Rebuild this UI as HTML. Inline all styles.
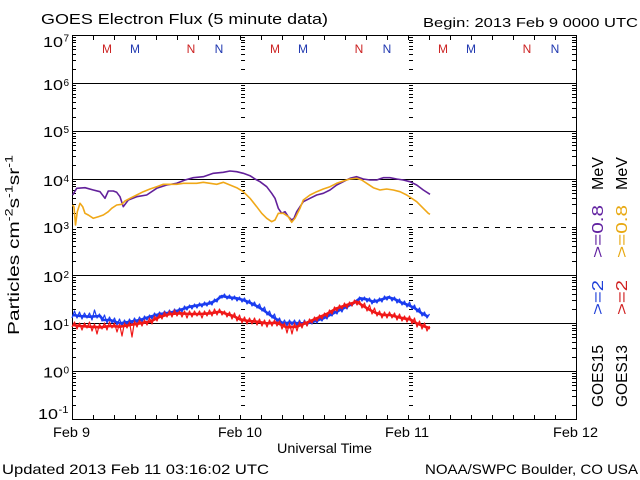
<!DOCTYPE html>
<html><head><meta charset="utf-8"><style>
html,body{margin:0;padding:0;background:#fff;}
svg{display:block;font-family:"Liberation Sans",Arial,sans-serif;}
</style></head><body>
<svg width="640" height="480" viewBox="0 0 640 480" xmlns="http://www.w3.org/2000/svg">
<defs>
<path id="tk" d="M0 405.5h4M0 396.5h4M0 390.5h4M0 385.5h4M0 382.5h4M0 378.5h4M0 376.5h4M0 373.5h4M0 357.5h4M0 348.5h4M0 342.5h4M0 337.5h4M0 334.5h4M0 330.5h4M0 328.5h4M0 325.5h4M0 309.5h4M0 300.5h4M0 294.5h4M0 289.5h4M0 286.5h4M0 282.5h4M0 280.5h4M0 277.5h4M0 261.5h4M0 252.5h4M0 246.5h4M0 241.5h4M0 238.5h4M0 234.5h4M0 232.5h4M0 229.5h4M0 213.5h4M0 204.5h4M0 198.5h4M0 193.5h4M0 190.5h4M0 186.5h4M0 184.5h4M0 181.5h4M0 165.5h4M0 156.5h4M0 150.5h4M0 145.5h4M0 142.5h4M0 138.5h4M0 136.5h4M0 133.5h4M0 117.5h4M0 108.5h4M0 102.5h4M0 97.5h4M0 94.5h4M0 90.5h4M0 88.5h4M0 85.5h4M0 69.5h4M0 60.5h4M0 54.5h4M0 49.5h4M0 46.5h4M0 42.5h4M0 40.5h4M0 37.5h4" stroke="#000" stroke-width="1" fill="none"/>
<path id="xt" d="M93.5 415v4M114.5 415v4M135.5 415v4M156.5 415v4M177.5 415v4M198.5 415v4M219.5 415v4M240.5 415v4M261.5 415v4M282.5 415v4M303.5 415v4M324.5 415v4M345.5 415v4M366.5 415v4M387.5 415v4M408.5 415v4M429.5 415v4M450.5 415v4M471.5 415v4M492.5 415v4M513.5 415v4M534.5 415v4M555.5 415v4" stroke="#000" stroke-width="1" fill="none"/>
</defs>

<!-- title -->
<text x="41" y="24" font-size="15" textLength="287" lengthAdjust="spacingAndGlyphs">GOES Electron Flux (5 minute data)</text>
<text x="423" y="27" font-size="13" textLength="215" lengthAdjust="spacingAndGlyphs">Begin: 2013 Feb 9 0000 UTC</text>

<!-- frame -->
<rect x="72.5" y="35.5" width="504" height="384" fill="none" stroke="#000" stroke-width="1"/>
<path d="M72 83.5H576M72 131.5H576M72 179.5H576M72 275.5H576M72 323.5H576M72 371.5H576" stroke="#000" stroke-width="1"/>
<path d="M77 227.5H576" stroke="#000" stroke-width="1" stroke-dasharray="5 6"/>

<!-- ticks -->
<use href="#tk" x="72"/>
<use href="#tk" x="241"/>
<use href="#tk" x="409"/>
<use href="#tk" x="572"/>
<use href="#xt"/>
<use href="#xt" y="-379"/>

<!-- M / N markers -->
<g font-size="12" text-anchor="middle">
<text x="107" y="53" fill="#cc2222">M</text>
<text x="135" y="53" fill="#2038b0">M</text>
<text x="191" y="53" fill="#cc2222">N</text>
<text x="219" y="53" fill="#2038b0">N</text>
<text x="275" y="53" fill="#cc2222">M</text>
<text x="303" y="53" fill="#2038b0">M</text>
<text x="359" y="53" fill="#cc2222">N</text>
<text x="387" y="53" fill="#2038b0">N</text>
<text x="443" y="53" fill="#cc2222">M</text>
<text x="471" y="53" fill="#2038b0">M</text>
<text x="527" y="53" fill="#cc2222">N</text>
<text x="555" y="53" fill="#2038b0">N</text>
</g>

<!-- y tick labels -->
<g font-size="15">
<text x="43" y="47" textLength="20" lengthAdjust="spacingAndGlyphs">10</text>
<text x="43" y="90" textLength="20" lengthAdjust="spacingAndGlyphs">10</text>
<text x="43" y="137" textLength="20" lengthAdjust="spacingAndGlyphs">10</text>
<text x="43" y="186" textLength="20" lengthAdjust="spacingAndGlyphs">10</text>
<text x="43" y="233" textLength="20" lengthAdjust="spacingAndGlyphs">10</text>
<text x="43" y="282" textLength="20" lengthAdjust="spacingAndGlyphs">10</text>
<text x="43" y="330" textLength="20" lengthAdjust="spacingAndGlyphs">10</text>
<text x="43" y="377.5" textLength="20" lengthAdjust="spacingAndGlyphs">10</text>
<text x="38" y="419" textLength="20" lengthAdjust="spacingAndGlyphs">10</text>
</g>
<g font-size="10">
<text x="63.5" y="41.5">7</text>
<text x="63.5" y="86">6</text>
<text x="63.5" y="133">5</text>
<text x="63.5" y="182">4</text>
<text x="63.5" y="229">3</text>
<text x="63.5" y="278">2</text>
<text x="63.5" y="326">1</text>
<text x="63.5" y="373.5">0</text>
<text x="58.5" y="413" textLength="10" lengthAdjust="spacingAndGlyphs">-1</text>
</g>

<!-- y axis title -->
<text transform="translate(19,335) rotate(-90)" font-size="16" textLength="180" lengthAdjust="spacingAndGlyphs">Particles cm<tspan font-size="11" dy="-6.5">-2</tspan><tspan dy="6.5">s</tspan><tspan font-size="11" dy="-6.5">-1</tspan><tspan dy="6.5">sr</tspan><tspan font-size="11" dy="-6.5">-1</tspan></text>

<!-- x labels -->
<g font-size="13.5">
<text x="53" y="437" textLength="37" lengthAdjust="spacingAndGlyphs">Feb 9</text>
<text x="218" y="437" textLength="44" lengthAdjust="spacingAndGlyphs">Feb 10</text>
<text x="385" y="437" textLength="44" lengthAdjust="spacingAndGlyphs">Feb 11</text>
<text x="553" y="437" textLength="45" lengthAdjust="spacingAndGlyphs">Feb 12</text>
<text x="277" y="453" textLength="95" lengthAdjust="spacingAndGlyphs">Universal Time</text>
</g>
<text x="2" y="474" font-size="14" textLength="267" lengthAdjust="spacingAndGlyphs">Updated 2013 Feb 11 03:16:02 UTC</text>
<text x="425" y="474" font-size="14" textLength="213" lengthAdjust="spacingAndGlyphs">NOAA/SWPC Boulder, CO USA</text>

<!-- legend -->
<g font-size="16">
<text transform="translate(603,407) rotate(-90)" textLength="62" lengthAdjust="spacingAndGlyphs">GOES15</text>
<text transform="translate(603,315) rotate(-90)" textLength="35" lengthAdjust="spacingAndGlyphs" fill="#2040d8">&gt;=2</text>
<text transform="translate(603,258) rotate(-90)" textLength="53" lengthAdjust="spacingAndGlyphs" fill="#6020a0">&gt;=0.8</text>
<text transform="translate(603,190) rotate(-90)" textLength="33" lengthAdjust="spacingAndGlyphs">MeV</text>
<text transform="translate(627,407) rotate(-90)" textLength="62" lengthAdjust="spacingAndGlyphs">GOES13</text>
<text transform="translate(627,315) rotate(-90)" textLength="35" lengthAdjust="spacingAndGlyphs" fill="#d02020">&gt;=2</text>
<text transform="translate(627,258) rotate(-90)" textLength="53" lengthAdjust="spacingAndGlyphs" fill="#e8a810">&gt;=0.8</text>
<text transform="translate(627,190) rotate(-90)" textLength="33" lengthAdjust="spacingAndGlyphs">MeV</text>
</g>

<!-- data: upper -->
<g fill="none" stroke-linejoin="round">
<polyline stroke="#62209a" stroke-width="1.6" points="72.7,195 76.7,188.3 85,187.7 93.3,190 100,191.7 105,198.3 108.3,191 113.3,191 116.7,192.3 120,196.7 123.3,206.7 128.3,200 136.7,196.7 146.7,195 156.7,188.3 166.7,185 176.7,183.3 185,180 193.3,177.7 203.3,176.7 213.3,173.3 223.3,172.3 230,171 236.7,171.7 243.3,173.3 250,175.7 255,179 260,181.7 266.7,186.7 271.7,193.3 275,198.3 278.3,208.3 281.7,213.3 285,211.7 288.3,216.7 291.7,220 294,218.3 296.7,211.7 300,206.7 303.3,201.7 310,198.3 316.7,195 323.3,193.3 330,190 336.7,185 343.3,181.7 350,178.3 356.7,176.7 363.3,179 370,180 376.7,180 383.3,177.7 390,177.7 396.7,179 403.3,180 410,181.7 416.7,185 423.3,190 430,194.3"/>
<polyline stroke="#f0a818" stroke-width="1.6" points="72.5,205 74,207 75.5,225 77.3,211.7 80,203.3 82.7,206.7 85,213.3 88.3,215 93.3,218.3 98.3,216.7 103.3,215 108.3,211.7 111.7,208.3 116.7,205 121.7,204.3 125,201 130,198.3 136.7,195 143.3,191.7 150,189 156.7,186.7 163.3,184.3 170,184.3 176.7,184.3 183.3,183.3 190,183.3 196.7,183.3 203.3,182.3 210,183.3 216.7,184.3 223.3,182.3 230,185 236.7,187.7 243.3,191.7 250,198.3 256.7,206.7 261.7,213.3 266.7,218.3 271.7,221.7 275,220 278.3,213.3 283.3,213.3 288.3,216.7 291.7,222.3 295,218.3 300,208.3 303.3,200 310,195 316.7,191.7 323.3,189 330,186.7 336.7,183.3 343.3,181 350,179 356.7,178.3 361.7,180 366.7,183.3 373.3,187.7 380,190 386.7,189 393.3,190 400,191.7 406.7,195 411.7,198.3 416.7,201.7 423.3,208.3 428.3,213.3 430,214.3"/>

<!-- data: lower -->
<polyline stroke="#1a3cf0" stroke-width="2.6" points="72.7,315 80,316 90,316.7 100,316 103.3,320 110,320 120,323.3 130,321.7 140,320 150,316.7 160,314 170,312.7 180,310 190,306.7 200,305 210,303.3 216.7,300 221.7,296 228.3,297.3 236.7,298.3 243.3,300 250,302.7 256.7,306 263.3,310 270,315 276.7,319.3 283.3,323.3 290,322.7 300,323.3 306.7,323.3 313.3,321.7 323.3,318.3 333.3,313.3 340,310 346.7,306.7 353.3,303.3 360,298.3 366.7,299.3 373.3,301.7 380,300 388.3,297.3 395,299.3 401.7,302.7 408.3,305 415,308.3 421.7,313.3 428.3,316.7"/>
<polyline stroke="#1a3cf0" stroke-width="1.2" points="72,318 74.5,311 77,318 79.5,312 82,319 84.5,313 87,318 89.5,313 92,320 94.5,310 97,318 99.5,314 102,321 104.5,315 107,323 109.5,317 112,323 114.5,318 117,325 119.5,319 122,326 124.5,320 127,325 129.5,319 132,324 134.5,318 137,323 139.5,317 142,322 144.5,316 147,320 149.5,315 152,319 154.5,313 157,317 159.5,312 162,316 164.5,311 167,315 169.5,310 172,315 174.5,309 177,313 179.5,308 182,312 184.5,306 187,310 189.5,305 192,309 194.5,304 197,308 199.5,303 202,307 204.5,302 207,306 209.5,301 212,305 214.5,299 217,302 219.5,296 222,298 224.5,294 227,299 229.5,295 232,300 234.5,296 237,301 239.5,297 242,302 244.5,298 247,304 249.5,300 252,306 254.5,302 257,308 259.5,304 262,311 264.5,307 267,315 269.5,311 272,318 274.5,314 277,322 279.5,318 282,325 284.5,320 287,326 289.5,320 292,325 294.5,320 297,326 299.5,320 302,326 304.5,320 307,326 309.5,320 312,324 314.5,319 317,323 319.5,318 322,321 324.5,316 327,319 329.5,313 332,316 334.5,311 337,314 339.5,308 342,312 344.5,306 347,309 349.5,303 352,306 354.5,301 357,303 359.5,297 362,301 364.5,297 367,302 369.5,298 372,304 374.5,299 377,303 379.5,298 382,302 384.5,296 387,300 389.5,296 392,301 394.5,297 397,303 399.5,299 402,305 404.5,301 407,307 409.5,302 412,309 414.5,305 417,312 419.5,308 422,316 424.5,312 427,318 429.5,314"/>
<polyline stroke="#f01818" stroke-width="2.6" points="72.7,325 80,326 90,326.7 100,327.3 110,326 120,326.7 130,325 140,323.3 150,321.7 160,316.7 170,314 180,313.3 190,314 200,314 210,313.3 220,311.7 226.7,314 233.3,316 240,319.3 246.7,320.7 256.7,321.7 266.7,323.3 276.7,322.7 286.7,327.3 296.7,326.7 306.7,322.7 316.7,318.3 326.7,314 336.7,308.3 346.7,305 356.7,301.7 363.3,306 370,310 376.7,313.3 383.3,315 390,315 396.7,316.7 403.3,318.3 410,319.3 416.7,323.3 423.3,326 430,328.3"/>
<polyline stroke="#f01818" stroke-width="1.2" points="72,327 74.5,322 77,329 79.5,323 82,330 84.5,323 87,328 89.5,322 92,331 94.5,324 97,334 99.5,324 102,329 104.5,323 107,330 109.5,322 112,328 114.5,323 117,332 119.5,324 122,336 124.5,323 127,328 129.5,322 132,337 134.5,321 137,327 139.5,320 142,326 144.5,320 147,325 149.5,318 152,324 154.5,316 157,321 159.5,314 162,319 164.5,312 167,317 169.5,311 172,317 174.5,310 177,316 179.5,311 182,317 184.5,311 187,318 189.5,311 192,317 194.5,311 197,316 199.5,311 202,318 204.5,311 207,316 209.5,310 212,316 214.5,309 217,315 219.5,309 222,315 224.5,311 227,317 229.5,312 232,319 234.5,313 237,321 239.5,315 242,323 244.5,317 247,324 249.5,318 252,324 254.5,318 257,325 259.5,319 262,326 264.5,320 267,327 269.5,320 272,326 274.5,320 277,326 279.5,321 282,329 284.5,323 287,333 289.5,323 292,334 294.5,323 297,331 299.5,322 302,328 304.5,321 307,326 309.5,319 312,323 314.5,317 317,321 319.5,315 322,319 324.5,313 327,317 329.5,310 332,314 334.5,307 337,311 339.5,305 342,309 344.5,303 347,308 349.5,302 352,306 354.5,300 357,305 359.5,301 362,308 364.5,303 367,311 369.5,305 372,314 374.5,308 377,316 379.5,311 382,318 384.5,312 387,318 389.5,312 392,318 394.5,313 397,320 399.5,314 402,321 404.5,316 407,322 409.5,316 412,324 414.5,318 417,327 419.5,321 422,329 424.5,323 427,331 429.5,326"/>
</g>
</svg>
</body></html>
